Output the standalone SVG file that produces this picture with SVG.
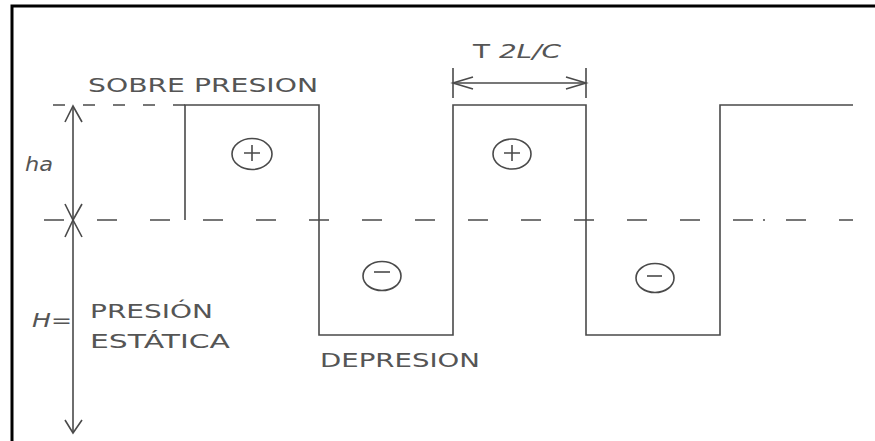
<svg xmlns="http://www.w3.org/2000/svg" width="875" height="441" viewBox="0 0 875 441">
<style>
.ln{fill:none;stroke:#4a4a4a;stroke-width:1.6}
.dash{fill:none;stroke:#4a4a4a;stroke-width:1.4}
.tx{font-family:"DejaVu Sans",Verdana,sans-serif;font-size:19px;fill:#555}
.it{font-style:italic}
</style>
<rect width="875" height="441" fill="#fff"/>
<g id="frame">
<path d="M12,441 V6 H875" fill="none" stroke="#000" stroke-width="3"/>
</g>
<g id="reference-lines">
<line class="dash" x1="53" y1="105" x2="185" y2="105" stroke-dasharray="12 18"/>
<line class="dash" x1="44" y1="220" x2="853" y2="220" stroke-dasharray="20 33"/>
<line class="dash" x1="763" y1="220" x2="765" y2="220"/>
</g>
<g id="wave">
<path class="ln" d="M185,220 V105 H319 V335 H453 V105 H586 V335 H720 V105 H853"/>
</g>
<g id="connectors">
<line class="ln" x1="73" y1="106" x2="73" y2="433"/>
<path class="ln" d="M65,122 L73,106 L82,122"/>
<path class="ln" d="M65,204 L73,220 L82,204"/>
<path class="ln" d="M65,237 L73,220 L82,237"/>
<path class="ln" d="M65,420 L73,433 L82,420"/>
<line class="ln" x1="453" y1="68" x2="453" y2="98"/>
<line class="ln" x1="586" y1="68" x2="586" y2="98"/>
<line class="ln" x1="453" y1="83" x2="586" y2="83"/>
<path class="ln" d="M473,77 L453,83 L473,89"/>
<path class="ln" d="M566,77 L586,83 L566,89"/>
</g>
<g id="sign-plus-1">
<ellipse class="ln" cx="252" cy="154" rx="20" ry="15.5"/>
<path class="ln" d="M244,153 H260 M252,145 V161"/>
</g>
<g id="sign-plus-2">
<ellipse class="ln" cx="512" cy="154" rx="19" ry="15"/>
<path class="ln" d="M504,153 H520 M512,145 V161"/>
</g>
<g id="sign-minus-1">
<ellipse class="ln" cx="382" cy="276" rx="19" ry="14.5"/>
<path class="ln" d="M374,272 H390"/>
</g>
<g id="sign-minus-2">
<ellipse class="ln" cx="655" cy="278" rx="19" ry="14.5"/>
<path class="ln" d="M647,276 H662"/>
</g>
<g id="labels">
<text class="tx" x="88" y="92" textLength="230" lengthAdjust="spacingAndGlyphs">SOBRE PRESION</text>
<text class="tx it" x="25" y="171" textLength="28" lengthAdjust="spacingAndGlyphs">ha</text>
<text class="tx" x="32" y="327" textLength="40" lengthAdjust="spacingAndGlyphs"><tspan class="it">H</tspan>=</text>
<text class="tx" x="90" y="318" textLength="123" lengthAdjust="spacingAndGlyphs">PRESIÓN</text>
<text class="tx" x="90" y="348" textLength="140" lengthAdjust="spacingAndGlyphs">ESTÁTICA</text>
<text class="tx" x="320" y="367" textLength="160" lengthAdjust="spacingAndGlyphs">DEPRESION</text>
<text class="tx" x="473" y="58" textLength="88" lengthAdjust="spacingAndGlyphs">T <tspan class="it">2L/C</tspan></text>
</g>
</svg>
